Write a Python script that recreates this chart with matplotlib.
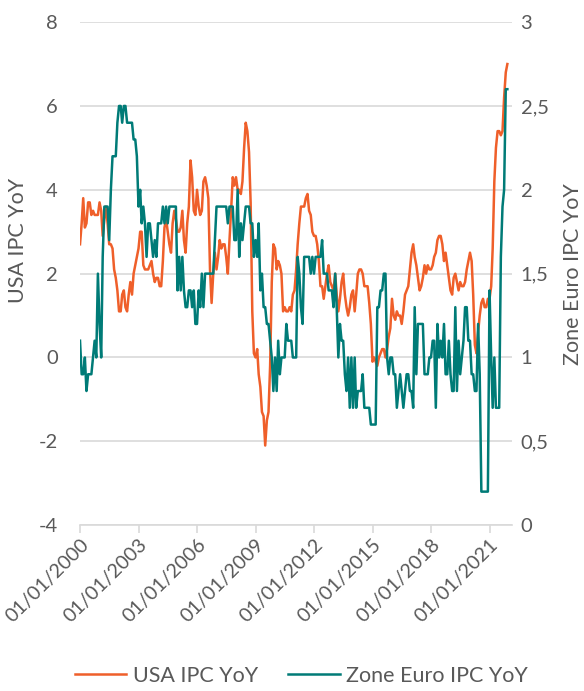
import numpy as np
import pandas as pd
import matplotlib
matplotlib.use("Agg")
import matplotlib.pyplot as plt
import matplotlib.dates as mdates
from matplotlib.ticker import FuncFormatter

# monthly values, Jan 2000 -> Dec 2021
usa_ipc = [
    2.7, 3.2, 3.8, 3.1, 3.2, 3.7, 3.7, 3.4, 3.5, 3.4, 3.4, 3.4,  # 2000
    3.7, 3.5, 2.9, 3.3, 3.6, 3.2, 2.7, 2.7, 2.6, 2.1, 1.9, 1.6,  # 2001
    1.1, 1.1, 1.5, 1.6, 1.2, 1.1, 1.5, 1.8, 1.5, 2.0, 2.2, 2.4,  # 2002
    2.6, 3.0, 3.0, 2.2, 2.1, 2.1, 2.1, 2.2, 2.3, 2.0, 1.8, 1.9,  # 2003
    1.9, 1.7, 1.7, 2.3, 3.1, 3.3, 3.0, 2.7, 2.5, 3.2, 3.5, 3.3,  # 2004
    3.0, 3.0, 3.1, 3.5, 2.8, 2.5, 3.2, 3.6, 4.7, 4.3, 3.5, 3.4,  # 2005
    4.0, 3.6, 3.4, 3.5, 4.2, 4.3, 4.1, 3.8, 2.1, 1.3, 2.0, 2.5,  # 2006
    2.1, 2.4, 2.8, 2.6, 2.7, 2.7, 2.4, 2.0, 2.8, 3.5, 4.3, 4.1,  # 2007
    4.3, 4.0, 4.0, 3.9, 4.2, 5.0, 5.6, 5.4, 4.9, 3.7, 1.1, 0.1,  # 2008
    0.0, 0.2, -0.4, -0.7, -1.3, -1.4, -2.1, -1.5, -1.3, -0.2, 1.8, 2.7,  # 2009
    2.6, 2.1, 2.3, 2.2, 2.0, 1.1, 1.2, 1.1, 1.1, 1.2, 1.1, 1.5,  # 2010
    1.6, 2.1, 2.7, 3.2, 3.6, 3.6, 3.6, 3.8, 3.9, 3.5, 3.4, 3.0,  # 2011
    2.9, 2.9, 2.7, 2.3, 1.7, 1.7, 1.4, 1.7, 2.0, 2.2, 1.8, 1.7,  # 2012
    1.6, 2.0, 1.5, 1.1, 1.4, 1.8, 2.0, 1.5, 1.2, 1.0, 1.2, 1.5,  # 2013
    1.6, 1.1, 1.5, 2.0, 2.1, 2.1, 2.0, 1.7, 1.7, 1.7, 1.3, 0.8,  # 2014
    -0.1, 0.0, -0.1, -0.2, 0.0, 0.1, 0.2, 0.2, 0.0, 0.2, 0.5, 0.7,  # 2015
    1.4, 1.0, 0.9, 1.1, 1.0, 1.0, 0.8, 1.1, 1.5, 1.6, 1.7, 2.1,  # 2016
    2.5, 2.7, 2.4, 2.2, 1.9, 1.6, 1.7, 1.9, 2.2, 2.0, 2.2, 2.1,  # 2017
    2.1, 2.2, 2.4, 2.5, 2.8, 2.9, 2.9, 2.7, 2.3, 2.5, 2.2, 1.9,  # 2018
    1.6, 1.5, 1.9, 2.0, 1.8, 1.6, 1.8, 1.7, 1.7, 1.8, 2.1, 2.3,  # 2019
    2.5, 2.3, 1.5, 0.3, 0.1, 0.6, 1.0, 1.3, 1.4, 1.2, 1.2, 1.4,  # 2020
    1.4, 1.7, 2.6, 4.2, 5.0, 5.4, 5.4, 5.3, 5.4, 6.2, 6.8, 7.0,  # 2021
]

euro_ipc = [
    1.1, 0.9, 0.9, 1.0, 0.8, 0.9, 0.9, 0.9, 1.0, 1.1, 1.0, 1.5,  # 2000
    1.2, 1.0, 1.6, 1.9, 1.9, 1.9, 1.7, 2.0, 2.2, 2.2, 2.2, 2.4,  # 2001
    2.5, 2.5, 2.4, 2.5, 2.5, 2.4, 2.4, 2.4, 2.4, 2.3, 2.3, 2.2,  # 2002
    1.9, 2.0, 1.8, 1.9, 1.8, 1.6, 1.8, 1.8, 1.7, 1.6, 1.7, 1.6,  # 2003
    1.8, 1.8, 1.8, 1.9, 1.8, 1.9, 1.8, 1.9, 1.9, 1.9, 1.9, 1.9,  # 2004
    1.4, 1.6, 1.4, 1.6, 1.4, 1.3, 1.3, 1.4, 1.4, 1.3, 1.4, 1.2,  # 2005
    1.2, 1.4, 1.3, 1.5, 1.3, 1.5, 1.5, 1.5, 1.5, 1.5, 1.5, 1.7,  # 2006
    1.9, 1.9, 1.9, 1.9, 1.9, 1.9, 1.9, 1.8, 1.9, 1.9, 1.9, 1.7,  # 2007
    1.7, 2.0, 1.6, 1.8, 1.7, 1.8, 1.9, 1.9, 1.9, 1.8, 1.8, 1.6,  # 2008
    1.7, 1.6, 1.8, 1.4, 1.5, 1.3, 1.3, 1.2, 1.2, 1.1, 1.0, 0.8,  # 2009
    1.0, 0.8, 1.1, 0.9, 1.0, 1.0, 1.0, 1.2, 1.1, 1.1, 1.1, 1.0,  # 2010
    1.0, 1.0, 1.6, 1.5, 1.3, 1.2, 1.6, 1.6, 1.6, 1.6, 1.5, 1.6,  # 2011
    1.5, 1.6, 1.6, 1.6, 1.6, 1.7, 1.5, 1.5, 1.5, 1.4, 1.4, 1.4,  # 2012
    1.3, 1.5, 1.3, 1.0, 1.2, 1.1, 1.1, 0.9, 0.8, 1.0, 0.7, 1.0,  # 2013
    0.7, 1.0, 0.7, 0.8, 0.8, 0.8, 0.9, 0.7, 0.7, 0.7, 0.7, 0.6,  # 2014
    0.6, 0.6, 0.6, 1.3, 1.3, 1.4, 1.4, 1.5, 1.5, 1.0, 0.9, 1.0,  # 2015
    1.0, 0.9, 0.9, 0.7, 0.8, 0.9, 0.8, 0.7, 0.8, 0.9, 0.9, 0.8,  # 2016
    0.8, 0.7, 1.3, 0.9, 1.2, 1.2, 1.2, 1.2, 0.9, 0.9, 0.9, 1.0,  # 2017
    1.0, 1.1, 1.1, 0.7, 1.2, 1.0, 1.1, 1.0, 1.2, 0.9, 0.9, 1.1,  # 2018
    0.9, 0.8, 0.8, 1.3, 0.8, 1.1, 0.9, 1.0, 1.1, 1.3, 1.3, 1.1,  # 2019
    1.1, 0.9, 0.9, 0.8, 0.8, 1.2, 0.9, 0.2, 0.2, 0.2, 0.2, 0.2,  # 2020
    1.4, 1.0, 0.7, 1.0, 0.7, 0.7, 0.7, 1.6, 1.9, 2.0, 2.6, 2.6,  # 2021
]

dates = pd.date_range("2000-01-01", periods=len(usa_ipc), freq="MS")
tick_dates = pd.to_datetime(["2000-01-01", "2003-01-01", "2006-01-01", "2009-01-01",
                             "2012-01-01", "2015-01-01", "2018-01-01", "2021-01-01"])

orange = "#EF5F2A"
teal = "#007B77"
grey_txt = "#595959"
grid_col = "#D9D9D9"

plt.rcParams["font.family"] = ["Lato", "DejaVu Sans"]
plt.rcParams["axes.unicode_minus"] = False

fig = plt.figure(figsize=(5.84, 6.91), dpi=100)
ax1 = fig.add_axes([0.137, 0.240, 0.740, 0.728])
ax2 = ax1.twinx()

l1, = ax1.plot(dates, usa_ipc, color=orange, lw=1.8, label="USA IPC YoY")
l2, = ax2.plot(dates, euro_ipc, color=teal, lw=1.8, label="Zone Euro IPC YoY")

ax1.set_ylim(-4, 8)
ax1.set_yticks(np.arange(-4, 9, 2))
ax2.set_ylim(0, 3)
ax2.set_yticks(np.arange(0, 3.01, 0.5))
ax2.yaxis.set_major_formatter(FuncFormatter(lambda v, p: f"{v:g}".replace(".", ",")))

ax1.set_xlim(pd.Timestamp("2000-01-01"), pd.Timestamp("2022-03-01"))
ax1.set_xticks(tick_dates)
ax1.xaxis.set_major_formatter(mdates.DateFormatter("%d/%m/%Y"))

ax1.grid(axis="y", color=grid_col, lw=1.2)
ax1.set_axisbelow(True)
for ax in (ax1, ax2):
    for s in ("top", "left", "right", "bottom"):
        ax.spines[s].set_visible(False)
ax1.spines["bottom"].set_visible(True)
ax1.spines["bottom"].set_color(grid_col)
ax1.spines["bottom"].set_linewidth(1.2)

ax1.tick_params(axis="y", length=0, pad=16, labelcolor=grey_txt, labelsize=14.5)
ax2.tick_params(axis="y", length=0, pad=6, labelcolor=grey_txt, labelsize=14.5)
ax1.tick_params(axis="x", length=6, width=1.2, color=grid_col, pad=2,
                labelcolor=grey_txt, labelsize=14.2)
for lab in ax1.get_xticklabels():
    lab.set_rotation(45)
    lab.set_ha("right")
    lab.set_va("top")
    lab.set_rotation_mode("anchor")

fig.text(0.03, 0.652, "USA IPC YoY", rotation=90, ha="center", va="center",
         color=grey_txt, fontsize=15.5)
fig.text(0.981, 0.603, "Zone Euro IPC YoY", rotation=90, ha="center", va="center",
         color=grey_txt, fontsize=15.5)

fig.legend(handles=[l1, l2], loc="center", bbox_to_anchor=(0.516, 0.022), ncol=2,
           frameon=False, handlelength=2.4, columnspacing=1.4, handletextpad=0.3,
           fontsize=15.5, labelcolor=grey_txt)

fig.savefig("out.png", dpi=100)
